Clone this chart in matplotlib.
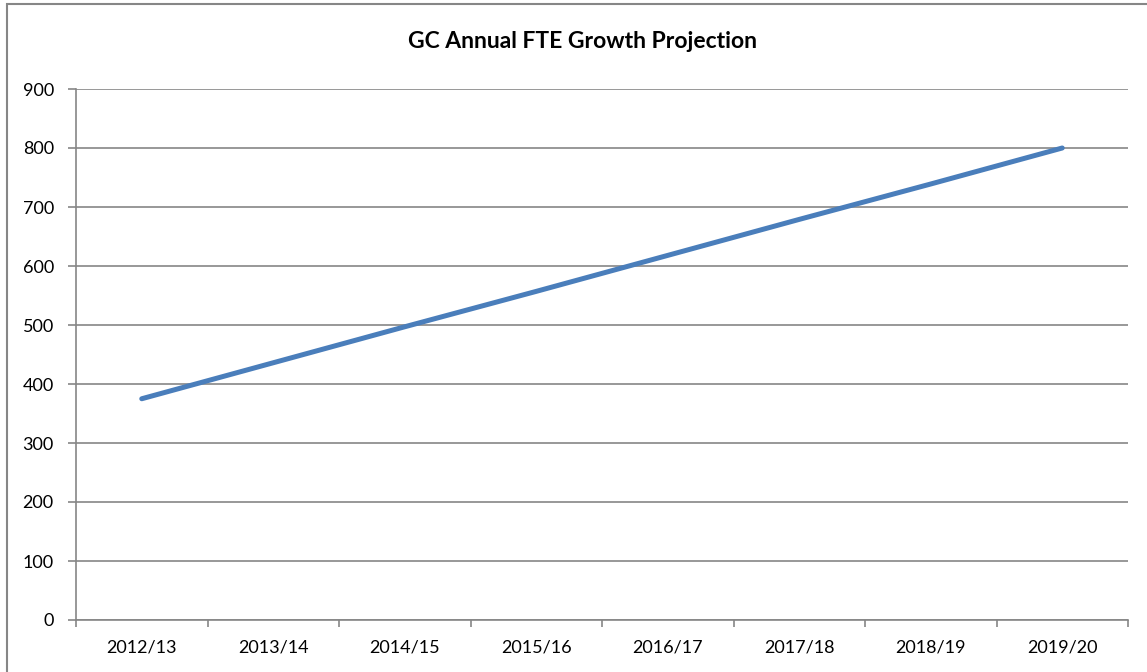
import matplotlib.pyplot as plt
from matplotlib.patches import Rectangle

# Data
years = ["2012/13", "2013/14", "2014/15", "2015/16", "2016/17", "2017/18", "2018/19", "2019/20"]
fte = [375, 436, 497, 557, 618, 679, 739, 800]

plt.rcParams['font.family'] = ['Lato', 'DejaVu Sans']

grey = "#868686"
fig = plt.figure(figsize=(11.47, 6.72), dpi=100)
fig.patches.append(Rectangle((7 / 1147, -0.05), 1.2, 1.05 - 4 / 672,
                             transform=fig.transFigure, fill=False,
                             edgecolor=grey, linewidth=1.5))

ax = fig.add_axes([76 / 1147, 1 - 620 / 672, (1128 - 76) / 1147, (620 - 89) / 672])
x = list(range(len(years)))
ax.plot(x, fte, color="#4A7EBB", linewidth=3.6, solid_capstyle="round")

ax.set_xlim(-0.5, len(years) - 0.5)
ax.set_ylim(0, 900)
ax.set_yticks(range(0, 1000, 100))
ax.set_xticks(x)
ax.set_xticklabels(years)
ax.set_xticks([i - 0.5 for i in range(len(years) + 1)], minor=True)
ax.tick_params(axis="x", which="major", length=0, pad=14, labelsize=13)
ax.tick_params(axis="x", which="minor", length=5, color=grey, width=1.2)
ax.tick_params(axis="y", length=6, color=grey, width=1.2, labelsize=13, pad=10)

ax.grid(axis="y", color=grey, linewidth=1.2)
ax.set_axisbelow(True)
for s in ["top", "right"]:
    ax.spines[s].set_visible(False)
for s in ["left", "bottom"]:
    ax.spines[s].set_color(grey)
    ax.spines[s].set_linewidth(1.2)

fig.text(0.508, 1 - 42 / 672, "GC Annual FTE Growth Projection", ha="center", va="center",
         fontsize=16.5, fontweight="bold")

fig.savefig("out.png", dpi=100)
